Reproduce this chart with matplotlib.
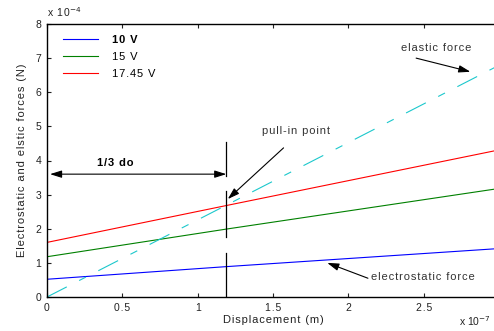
import numpy as np
import matplotlib
matplotlib.use("Agg")
import matplotlib.pyplot as plt

plt.rcParams["font.family"] = ["Liberation Sans", "DejaVu Sans"]
plt.rcParams["lines.scale_dashes"] = False

# displacement in units of 1e-7 m, forces in units of 1e-4 N
displacement = [0.0, 1.19, 3.0]
force_10v = [0.52, 0.89, 1.42]
force_15v = [1.18, 1.99, 3.18]
force_1745v = [1.60, 2.68, 4.31]
elastic = [0.0, 2.69, 6.79]
voltage_labels = ["10 V", "15 V", "17.45 V"]
x_ticks = [0, 0.5, 1, 1.5, 2, 2.5]
x_ticklabels = ["0", "0.5", "1", "1.5", "2", "2.5"]

pull_in_x = 1.19
marker_segments = [(3.55, 4.55), (1.76, 3.11), (0.0, 1.29)]

HAIR = "\u200a"


def spaced(s):
    # loose letter tracking
    return HAIR.join(s)


fig = plt.figure(figsize=(4.94, 3.31), dpi=100)
ax = fig.add_axes([47 / 494, 34 / 331, 452 / 494, 273 / 331])

ax.plot(displacement, force_10v, color="#0000ff", lw=0.8, label=spaced(voltage_labels[0]))
ax.plot(displacement, force_15v, color="#008000", lw=0.8, label=spaced(voltage_labels[1]))
ax.plot(displacement, force_1745v, color="#ff0000", lw=0.8, label=spaced(voltage_labels[2]))
ax.plot(displacement, elastic, color="#1cc8cc", lw=0.8,
        dashes=(16, 10, 5.5, 10))

# vertical marker at the pull-in displacement
for y0, y1 in marker_segments:
    ax.plot([pull_in_x, pull_in_x], [y0, y1], color="black", lw=0.9)

ax.set_xlim(0, 3)
ax.set_ylim(0, 8)
ax.set_xticks(x_ticks + [3])
ax.set_xticklabels([spaced(t) for t in x_ticklabels] + [""])
ax.set_yticks(range(0, 9))
ax.tick_params(direction="in", top=True, right=True, length=3, width=0.8,
               labelsize=7.5, pad=4, colors="#222222")
for s in ax.spines.values():
    s.set_linewidth(1.0)

ax.set_xlabel(spaced("Displacement (m)"), fontsize=8, labelpad=2, color="#222222")
ax.set_ylabel(spaced("Electrostatic and elstic forces (N)"), fontsize=8,
              labelpad=6, color="#222222")

fig.text(47 / 494, 1 - 17 / 331, spaced("x 10") + r"$^{-4}$", fontsize=7.5,
         color="#222222", va="baseline")
fig.text(459 / 494, 1 - 326 / 331, r"x 10$^{-7}$", fontsize=7.5,
         color="#222222", va="baseline")

leg = ax.legend(loc="upper left", bbox_to_anchor=(0.025, 0.975), frameon=False,
                fontsize=8, handlelength=3.2, handletextpad=1.2,
                labelspacing=0.6, borderaxespad=0)
leg.get_texts()[0].set_fontweight("bold")

arrow = dict(arrowstyle="-|>,head_length=0.7,head_width=0.22", color="black",
             lw=0.8, shrinkA=0, shrinkB=0)

# one third of the initial gap
ax.annotate("", xy=(0.02, 3.6), xytext=(pull_in_x, 3.6),
            arrowprops=dict(arrow, arrowstyle="<|-|>,head_length=0.7,head_width=0.22"))
ax.text(0.45, 3.92, spaced("1/3 do"), fontsize=8, fontweight="bold",
        ha="center", va="center")

ax.text(1.65, 4.85, spaced("pull-in point"), fontsize=8, ha="center",
        va="center", color="#333333")
ax.annotate("", xy=(1.2, 2.87), xytext=(1.57, 4.37), arrowprops=arrow)

ax.annotate("", xy=(2.81, 6.6), xytext=(2.45, 7.0), arrowprops=arrow)
ax.text(2.58, 7.3, spaced("elastic force"), fontsize=8, ha="center",
        va="center", color="#333333")

ax.annotate("", xy=(1.86, 1.0), xytext=(2.13, 0.55), arrowprops=arrow)
ax.text(2.15, 0.58, spaced("electrostatic force"), fontsize=8, ha="left",
        va="center", color="#333333")

fig.savefig("out.png", dpi=100)
